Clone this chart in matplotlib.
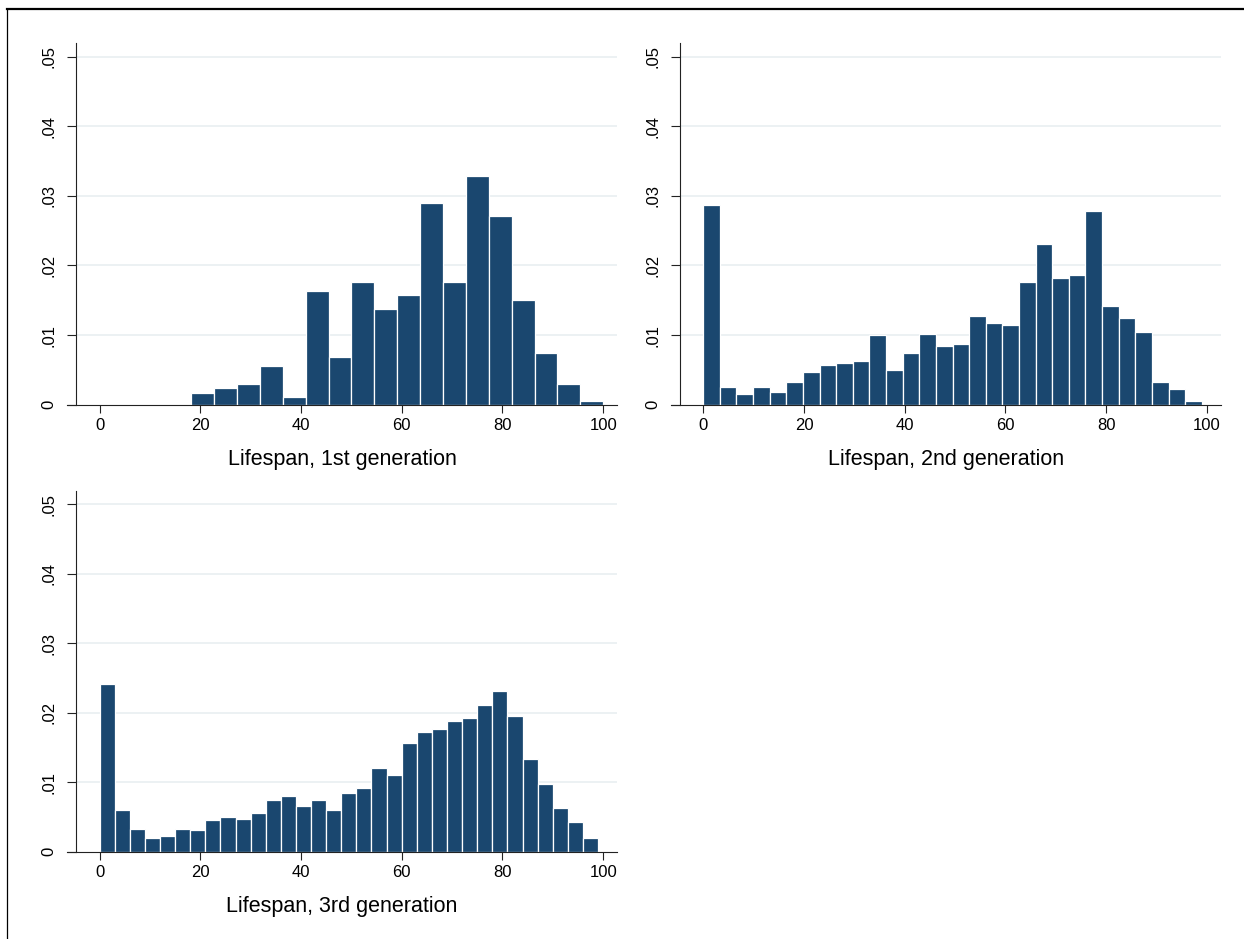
import numpy as np
import matplotlib
matplotlib.use("Agg")
import matplotlib.pyplot as plt
from matplotlib.lines import Line2D

plt.rcParams['font.family'] = ['Liberation Sans', 'DejaVu Sans']

# ---- data (density per bin) ----
gen1_start, gen1_width = 18.2, 4.545
gen1_density = [0.0017, 0.00233, 0.0030, 0.00549, 0.00108, 0.01628, 0.00679,
                0.01758, 0.01379, 0.01571, 0.0290, 0.01758, 0.03283, 0.02707,
                0.01508, 0.00746, 0.0030, 0.00046]

gen2_start, gen2_width = 0.0, 3.3
gen2_density = [0.02871, 0.00254, 0.00153, 0.00254, 0.00177, 0.0033, 0.00474,
                0.00574, 0.00603, 0.00627, 0.00995, 0.00502, 0.00746, 0.01019,
                0.00847, 0.00871, 0.01268, 0.01167, 0.01144, 0.01761, 0.02306,
                0.01813, 0.01861, 0.02775, 0.01416, 0.01244, 0.01043, 0.0033,
                0.0023, 0.00057]

gen3_start, gen3_width = 0.0, 3.0
gen3_density = [0.02411, 0.00598, 0.00325, 0.00196, 0.0023, 0.00325, 0.00311,
                0.00455, 0.00498, 0.00469, 0.00555, 0.00742, 0.00799, 0.00656,
                0.00742, 0.00598, 0.00842, 0.00914, 0.01201, 0.0110, 0.01569,
                0.01727, 0.0177, 0.0188, 0.01923, 0.0211, 0.02311, 0.01952,
                0.0134, 0.00971, 0.00627, 0.00426, 0.00196]

x_labels = ["Lifespan, 1st generation", "Lifespan, 2nd generation",
            "Lifespan, 3rd generation"]
x_ticks = [0, 20, 40, 60, 80, 100]
y_ticks = [0, 0.01, 0.02, 0.03, 0.04, 0.05]
y_tick_labels = ["0", ".01", ".02", ".03", ".04", ".05"]

BAR = "#1a476f"
GRID = "#e9eff1"

W, H = 1244, 939
fig = plt.figure(figsize=(W / 100, H / 100), dpi=100)


def rect(left, right, top, bottom):
    return [left / W, (H - bottom) / H, (right - left) / W, (bottom - top) / H]


panels = [
    (rect(67.3, 617.0, 43.3, 404.7), gen1_start, gen1_width, gen1_density, x_labels[0]),
    (rect(671.0, 1220.7, 43.3, 404.7), gen2_start, gen2_width, gen2_density, x_labels[1]),
    (rect(67.3, 617.0, 491.0, 851.7), gen3_start, gen3_width, gen3_density, x_labels[2]),
]

XMIN, XMAX, YAX = -6.4, 102.75, -4.6
for r, start, width, dens, lab in panels:
    ax = fig.add_axes(r)
    ax.set_xlim(XMIN, XMAX)
    ax.set_ylim(0, 0.0519)
    # grid lines from y-axis to right end
    ax.hlines(y_ticks[1:], YAX, XMAX, colors=GRID, lw=1.2, zorder=0)
    lefts = start + width * np.arange(len(dens))
    ax.bar(lefts, dens, width=width, align='edge', color=BAR,
           edgecolor='white', linewidth=0.9, zorder=2)
    for s in ['top', 'right']:
        ax.spines[s].set_visible(False)
    ax.spines['left'].set_position(('data', YAX))
    ax.spines['left'].set_linewidth(0.8)
    ax.spines['left'].set_color('#222222')
    ax.spines['bottom'].set_linewidth(0.8)
    ax.spines['bottom'].set_color('#222222')
    ax.spines['bottom'].set_zorder(3)
    ax.set_xticks(x_ticks)
    ax.set_xticklabels([str(t) for t in x_ticks])
    ax.set_yticks(y_ticks)
    ax.set_yticklabels(y_tick_labels)
    ax.tick_params(axis='x', direction='out', length=6, width=0.8,
                   labelsize=12, pad=3.5, color='#222222')
    ax.tick_params(axis='y', direction='out', length=6.3, width=0.8,
                   labelsize=12, pad=8, color='#222222', labelrotation=90)
    for t in ax.get_yticklabels():
        t.set_va('center')
        t.set_ha('right')
    ax.set_xlabel(lab, fontsize=15.5, labelpad=11.5)
    ax.set_facecolor('none')

# outer frame lines (top and left)
fig.add_artist(Line2D([7.3 / W, 1.0], [1 - 9 / H, 1 - 9 / H], lw=1.6,
                      color='black', transform=fig.transFigure))
fig.add_artist(Line2D([7.3 / W, 7.3 / W], [0.0, 1 - 9 / H], lw=0.9,
                      color='black', transform=fig.transFigure))

fig.savefig("out.png", dpi=100, facecolor='white')
